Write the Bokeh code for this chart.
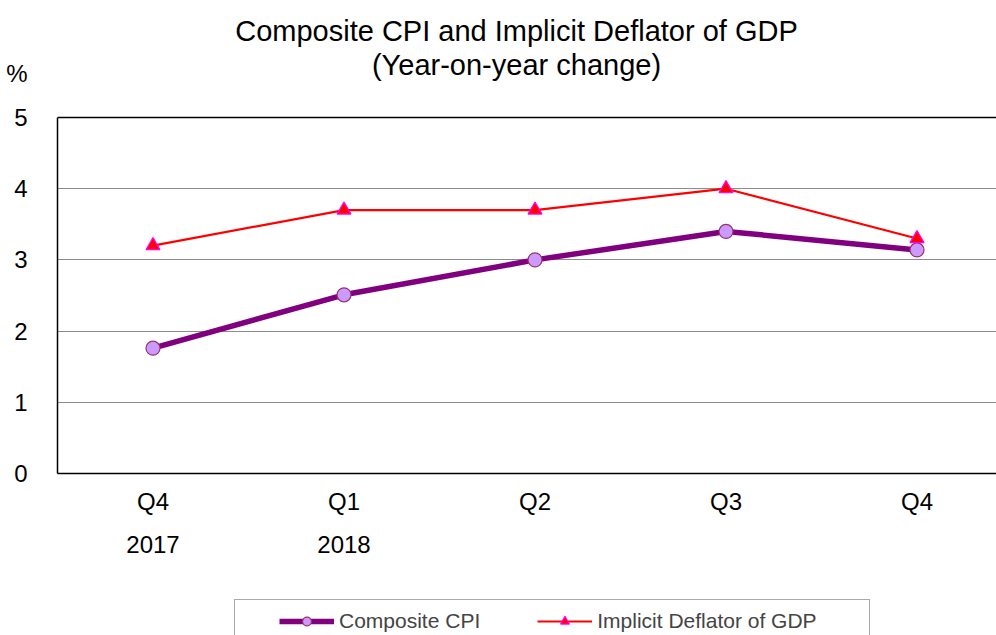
from bokeh.plotting import figure
from bokeh.layouts import column
from bokeh.models import (Range1d, LinearAxis, FixedTicker, Span, Legend, LegendItem, Label)
from bokeh.embed import file_html
from bokeh.resources import INLINE

quarters = ["Q4", "Q1", "Q2", "Q3", "Q4"]
years = ["2017", "2018", "", "", ""]
cpi = [1.76, 2.51, 3.0, 3.4, 3.14]
deflator = [3.2, 3.7, 3.7, 4.0, 3.3]
y_ticks = [0, 1, 2, 3, 4, 5]
unit_label = "%"
title_lines = ["Composite CPI and Implicit Deflator of GDP", "(Year-on-year change)"]
series_names = ["Composite CPI", "Implicit Deflator of GDP"]

FONT = "Liberation Sans"
xs = list(range(len(quarters)))

# ---- layout geometry (pixels) ----
W, H_MAIN, H_LEG = 996, 598, 37
LEFT, FRAME_BOTTOM = 57, 473
Y_TOP_PX = 117                      # pixel row of y = 5
PX_PER_Y = (FRAME_BOTTOM - Y_TOP_PX) / 5.0
PX_PER_X = 191.0
x_start = -0.5
x_end = x_start + (W - LEFT) / PX_PER_X
y_end = 5 + Y_TOP_PX / PX_PER_Y


def px_to_y(py):
    return 5 + (Y_TOP_PX - py) / PX_PER_Y


def px_to_x(px):
    return x_start + (px - LEFT) / PX_PER_X


p = figure(width=W, height=H_MAIN, output_backend="svg", toolbar_location=None, title=None,
           x_range=Range1d(x_start, x_end), y_range=Range1d(0, y_end),
           min_border_left=LEFT, min_border_right=0, min_border_top=0,
           min_border_bottom=H_MAIN - FRAME_BOTTOM)
p.background_fill_color = "white"
p.border_fill_color = "white"
p.outline_line_color = None

# y axis line only (0..5)
yl = p.yaxis[0]
yl.bounds = (0, 5)
yl.ticker = FixedTicker(ticks=[])
yl.axis_line_color = "black"
yl.axis_line_width = 1.5
yl.major_tick_in = 0
yl.major_tick_out = 0
yl.minor_tick_in = 0
yl.minor_tick_out = 0
yl.major_label_standoff = 0

pct_pos = round(px_to_y(73), 2)
ylab = LinearAxis(ticker=FixedTicker(ticks=y_ticks + [pct_pos]),
                  major_label_overrides={pct_pos: unit_label})
ylab.axis_line_color = None
ylab.major_tick_line_color = None
ylab.minor_tick_line_color = None
ylab.major_tick_in = 0
ylab.major_tick_out = 0
ylab.major_label_text_font = FONT
ylab.major_label_text_font_size = "24px"
ylab.major_label_text_color = "black"
ylab.major_label_standoff = 30
p.add_layout(ylab, "left")

# x axes
xa = p.xaxis[0]
xa.ticker = FixedTicker(ticks=xs)
xa.major_label_overrides = {i: q for i, q in enumerate(quarters)}
xa.major_label_text_font = FONT
xa.major_label_text_font_size = "24px"
xa.major_label_text_color = "black"
xa.axis_line_color = "black"
xa.axis_line_width = 1.5
xa.major_tick_line_color = None
xa.minor_tick_line_color = None
xa.major_tick_in = 0
xa.major_tick_out = 0
xa.major_label_standoff = 14

year_axis = LinearAxis(ticker=FixedTicker(ticks=xs),
                       major_label_overrides={i: y for i, y in enumerate(years)})
year_axis.axis_line_color = None
year_axis.major_tick_line_color = None
year_axis.minor_tick_line_color = None
year_axis.major_tick_in = 0
year_axis.major_tick_out = 0
year_axis.major_label_text_font = FONT
year_axis.major_label_text_font_size = "24px"
year_axis.major_label_text_color = "black"
year_axis.major_label_standoff = 18
p.add_layout(year_axis, "below")

p.xgrid.grid_line_color = None
p.ygrid.ticker = FixedTicker(ticks=[t for t in y_ticks if 0 < t < 5])
p.ygrid.grid_line_color = "#8c8c8c"
p.ygrid.grid_line_width = 1
p.add_layout(Span(location=5, dimension="width", line_color="black", line_width=1.5))

# titles
for txt, py in zip(title_lines, [30, 64]):
    p.add_layout(Label(x=px_to_x(516), y=px_to_y(py), text=txt, text_align="center",
                       text_baseline="middle", text_font=FONT, text_font_size="29px",
                       text_color="black"))

# series
def draw(fig):
    a = fig.line(xs, cpi, line_color="#800080", line_width=5.5)
    b = fig.scatter(xs, cpi, marker="circle", size=14, fill_color="#CC99FF",
                    line_color="#993366", line_width=1.2)
    c = fig.line(xs, deflator, line_color="#FF0000", line_width=2.2)
    d = fig.scatter(xs, deflator, marker="triangle", size=14, fill_color="#FF0000",
                    line_color="#FF00FF", line_width=1.2)
    return a, b, c, d

draw(p)

# legend strip (separate figure under the chart, same series; frame aligned with chart)
q = figure(width=W, height=H_LEG, output_backend="svg", toolbar_location=None, title=None,
           x_axis_location=None, y_axis_location=None,
           x_range=Range1d(x_start, x_end), y_range=Range1d(100, 101),
           min_border=0)
q.outline_line_color = None
q.xgrid.grid_line_color = None
q.ygrid.grid_line_color = None
la, lb, lc, ld = draw(q)

# box of the legend (wider than its content, as in the reference)
box_r = q.line(xs, cpi, line_alpha=0)
box = Legend(items=[LegendItem(label=" ", renderers=[box_r])],
             orientation="horizontal", location=(234 - LEFT, -26), margin=0,
             label_text_font=FONT, label_text_font_size="10px", label_width=0,
             glyph_width=634, glyph_height=60, label_standoff=0, spacing=0,
             padding=0, border_line_color="#555555", border_line_width=1,
             background_fill_color="white", background_fill_alpha=1)
q.add_layout(box, "center")

legend = Legend(items=[LegendItem(label=series_names[0], renderers=[la, lb]),
                       LegendItem(label=series_names[1], renderers=[lc, ld])],
                orientation="horizontal", location=(279 - LEFT, 2), margin=0,
                label_text_font=FONT, label_text_font_size="21px",
                glyph_width=55, glyph_height=22, label_standoff=5, spacing=57,
                padding=9, border_line_color=None, background_fill_alpha=0)
q.add_layout(legend, "center")

layout = column(p, q, spacing=0)
open("out.html", "w").write(file_html(layout, INLINE))
